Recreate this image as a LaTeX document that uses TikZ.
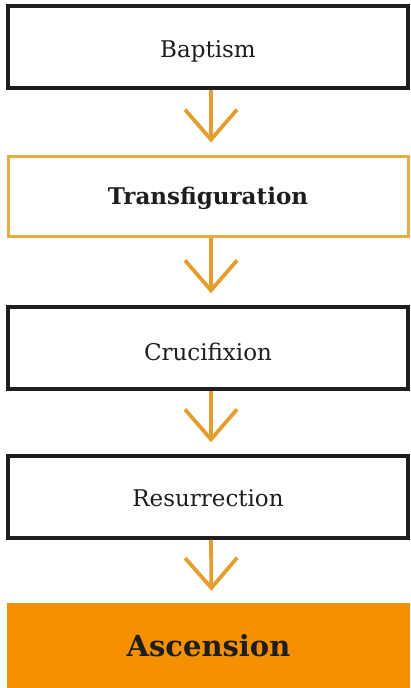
\documentclass[tikz,border=0pt]{standalone}
\usepackage{fontspec}
\setmainfont{DejaVu Serif}
\usetikzlibrary{arrows.meta}
\definecolor{arrorange}{RGB}{228,158,45}
\definecolor{boxorange}{RGB}{232,172,70}
\definecolor{fillorange}{RGB}{245,145,0}
\definecolor{inkblack}{RGB}{30,30,30}
\begin{document}
\begin{tikzpicture}[x=1pt,y=-1pt,
  plainbox/.style={draw=inkblack,line width=3.5pt,fill=white,minimum width=400pt,minimum height=82pt,inner sep=0pt},
  keybox/.style={draw=boxorange,line width=3pt,fill=white,minimum width=400pt,minimum height=80pt,inner sep=0pt},
  endbox/.style={fill=fillorange,minimum width=403pt,minimum height=86pt,inner sep=0pt},
  plaintext/.style={font=\fontsize{23}{27}\selectfont,text=inkblack,inner sep=0pt},
  keytext/.style={font=\bfseries\fontsize{23}{27}\selectfont,text=inkblack,inner sep=0pt},
  endtext/.style={font=\bfseries\fontsize{29}{34}\selectfont,text=inkblack,inner sep=0pt},
  flow/.style={draw=arrorange,line width=3.8pt,-{Straight Barb[length=30pt,width=52pt,line width=3.8pt]},shorten >=12pt}
]
\useasboundingbox (0,0) rectangle (410,688);
\node[plainbox] (b1) at (208,47) {};
\node[keybox]   (b2) at (208,196) {};
\node[plainbox] (b3) at (208,348) {};
\node[plainbox] (b4) at (208,497) {};
\node[endbox]   (b5) at (208.5,646) {};
\node[plaintext] (t1) at ([yshift=-4pt]b1.center) {Baptism};
\node[keytext]   (t2) at ([yshift=-2pt]b2.center) {Transfiguration};
\node[plaintext] (t3) at ([yshift=-4pt]b3.center) {Crucifixion};
\node[plaintext] (t4) at ([yshift=-1pt]b4.center) {Resurrection};
\node[endtext]   (t5) at (b5.center) {Ascension};
\draw[flow] ([xshift=3pt]b1.south) -- ([xshift=3pt]b2.north);
\draw[flow] ([xshift=3pt]b2.south) -- ([xshift=3pt]b3.north);
\draw[flow] ([xshift=3pt]b3.south) -- ([xshift=3pt]b4.north);
\draw[flow] ([xshift=3pt]b4.south) -- ([xshift=3pt]b5.north);
\end{tikzpicture}
\end{document}
